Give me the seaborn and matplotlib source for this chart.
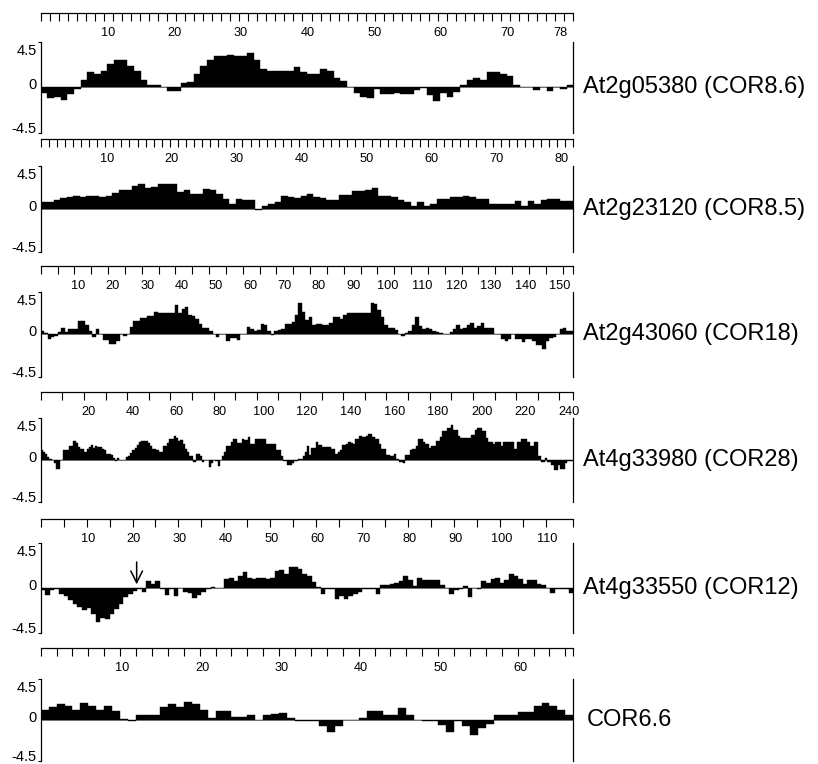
import numpy as np
import pandas as pd
import matplotlib
matplotlib.use("Agg")
import matplotlib.pyplot as plt
import seaborn as sns

# ──────────────────────────────────────────────
# ДАННЫЕ: профили гидропатии (значения по остаткам)
# ──────────────────────────────────────────────

COR86 = [
    -0.6, -1.1, -1.0, -1.3, -0.7, -0.2, 0.75, 1.5, 1.3, 1.6,
    2.3, 2.7, 2.7, 2.1, 1.6, 0.75, 0.25, 0.25, 0, -0.35,
    -0.35, 0.4, 0.55, 1.3, 2.1, 2.7, 3.1, 3.1, 3.2, 3.1,
    3.1, 3.45, 2.7, 1.8, 1.65, 1.65, 1.65, 1.65, 2.05, 1.5,
    1.35, 1.35, 1.8, 1.6, 0.9, 0.65, 0, -0.6, -0.95, -1.1,
    -0.2, -0.65, -0.65, -0.6, -0.65, -0.65, -0.3, -0.1, -0.75, -1.4,
    -0.6, -0.95, -0.45, 0.25, 0.75, 0.9, 0.75, 1.5, 1.5, 1.35,
    1.1, 0.25, 0, 0, -0.25, 0, -0.4, 0, -0.2, 0.25,
]

COR85 = [
    0.7, 0.7, 0.95, 1.1, 1.3, 1.35, 1.3, 1.35, 1.35, 1.3,
    1.35, 1.7, 1.95, 1.95, 2.4, 2.65, 2.15, 2.3, 2.65, 2.65,
    2.65, 1.75, 1.95, 1.55, 1.55, 2.1, 1.95, 1.55, 1.05, 0.55,
    1.05, 0.95, 0.95, -0.1, 0.35, 0.55, 0.7, 1.35, 1.3, 1.2,
    1.35, 1.6, 1.25, 1.2, 0.9, 0.9, 1.5, 1.5, 1.9, 1.9,
    2.0, 2.25, 1.35, 1.35, 1.25, 0.9, 0.7, 0.35, 0.7, 0.35,
    0.5, 1.0, 1.0, 1.25, 1.25, 1.35, 1.25, 1.0, 1.0, 0.5,
    0.5, 0.5, 0.5, 0.85, 0.35, 0.85, 0.5, 0.9, 1.0, 1.0,
    0.85, 0.85,
]

COR18 = [
    0.35, 0.1, -0.5, -0.25, -0.2, 0.2, 0.7, 0.2, 0.55, 0.55,
    0.55, 1.45, 1.45, 0.95, 0.35, -0.25, 0.55, 0, -0.55, -0.55,
    -1.0, -1.0, -0.7, 0, -0.15, 0, 0.8, 1.45, 1.45, 1.7,
    1.7, 1.9, 1.95, 2.4, 2.3, 2.3, 2.3, 2.3, 2.3, 3.05,
    2.3, 2.65, 2.9, 2.0, 1.9, 1.6, 1.1, 0.7, 0.7, 0.35,
    0, -0.3, 0, 0, -0.7, -0.4, -0.4, -0.55, 0, 0,
    0.8, 0.6, 0.35, 0.45, 1.1, 0.95, 0.35, -0.1, 0.35, 0.45,
    0.6, 1.1, 1.1, 1.3, 2.0, 3.3, 2.4, 1.5, 1.8, 1.0,
    1.05, 1.05, 1.0, 1.0, 1.15, 1.8, 1.8, 1.6, 2.0, 2.2,
    2.2, 2.2, 2.2, 2.2, 2.2, 2.2, 3.35, 3.2, 2.6, 1.85,
    1.0, 0.65, 0.65, 0.5, 0, -0.2, 0.1, 0.35, 1.0, 1.8,
    0.9, 0.6, 0.7, 0.6, 0.4, 0.25, 0.1, 0, 0, 0.2,
    0.6, 1.0, 0.55, 0.7, 1.0, 1.15, 0.7, 0.85, 1.15, 0.65,
    0.65, 0.65, 0, 0, -0.45, -0.7, -0.45, 0, -0.5, -0.5,
    -0.85, -0.45, -0.45, -0.75, -1.1, -1.1, -1.5, -0.7, -0.35, -0.25,
    0, 0.6, 0.65, 0.35, 0.35,
]

COR28 = [
    1.0, 0.8, 0.6, 0.3, 0.1, 0, -0.3, -0.95, -0.95, 0,
    1.05, 1.05, 1.05, 1.5, 1.5, 2.0, 1.75, 1.4, 1.15, 1.15,
    0.8, 1.15, 1.4, 1.55, 1.3, 1.5, 1.4, 1.4, 1.15, 1.0,
    0.6, 0.6, 0.55, 0.2, -0.15, 0.2, 0, 0, 0, 0.3,
    0.45, 0.7, 1.0, 1.25, 1.6, 1.85, 2.0, 2.0, 2.0, 1.75,
    1.5, 1.15, 1.15, 1.0, 0.8, 0.8, 1.5, 1.5, 1.75, 2.2,
    2.2, 2.5, 2.3, 2.0, 2.1, 1.65, 1.15, 0.8, 0.45, 0.45,
    -0.25, 0.6, 0.6, 0.35, -0.25, 0, 0, -0.75, -0.4, 0,
    -0.1, -0.7, 0, 0.45, 0.8, 1.5, 1.5, 1.85, 2.2, 2.2,
    1.75, 1.75, 2.2, 2.1, 2.1, 2.4, 1.65, 1.65, 2.2, 2.2,
    2.2, 2.2, 2.2, 1.65, 1.65, 1.65, 1.65, 1.65, 1.0, 1.0,
    0.45, -0.15, -0.15, -0.6, -0.6, -0.35, -0.15, -0.15, 0.1, 0.1,
    0.45, 0.8, 1.5, 0.55, 1.25, 1.25, 1.85, 1.55, 1.55, 1.4,
    1.4, 1.4, 1.4, 1.15, 1.15, 0.6, 0.8, 1.0, 1.55, 1.55,
    1.65, 1.95, 1.8, 1.65, 2.2, 2.2, 2.5, 2.45, 2.45, 2.5,
    2.75, 2.75, 2.4, 2.2, 2.2, 1.65, 1.15, 1.15, 0.55, 0.55,
    0.45, 0.45, 0.6, 0.1, -0.25, -0.25, -0.35, 0.55, 0.55, 1.0,
    1.15, 1.15, 1.5, 2.2, 2.2, 1.85, 1.65, 1.65, 1.3, 1.5,
    1.5, 2.0, 2.0, 2.4, 3.05, 3.05, 3.4, 3.4, 3.75, 3.2,
    3.2, 2.5, 2.35, 2.35, 2.35, 2.35, 2.35, 2.6, 2.6, 3.2,
    3.4, 3.4, 3.05, 3.05, 2.35, 1.95, 1.95, 1.65, 1.95, 1.95,
    1.95, 1.5, 1.85, 1.85, 1.95, 1.95, 1.95, 1.15, 1.85, 1.85,
    2.2, 2.2, 2.2, 1.85, 1.5, 1.5, 1.85, 1.85, 0.45, -0.25,
    -0.25, 0.2, -0.25, -0.25, -0.6, -1.05, -1.05, -0.6, -0.95, -0.95,
    -0.35, -0.15, -0.15, -0.15,
]

COR12 = [
    -0.2, -0.65, -0.2, -0.05, -0.55, -0.8, -1.2, -1.55, -1.85, -2.2,
    -1.95, -2.6, -3.4, -3.0, -3.05, -2.6, -2.1, -1.55, -0.9, -0.55,
    -0.3, -0.1, -0.35, 0.75, 0.45, 0.75, -0.05, -0.65, -0.05, -0.8,
    0, -0.35, -0.45, -1.0, -0.7, -0.35, -0.05, 0.1, 0, 0,
    0.9, 1.05, 0.75, 1.25, 1.6, 1.05, 0.9, 1.05, 1.05, 0.9,
    1.0, 1.7, 1.8, 1.4, 2.15, 2.15, 1.9, 1.4, 1.2, 0.65,
    0.1, -0.55, -0.05, -0.05, -1.1, -0.8, -1.1, -0.8, -0.55, -0.35,
    -0.05, -0.05, -0.05, -0.55, 0.35, 0.35, 0.45, 0.5, 0.75, 1.25,
    0.85, 0.2, 1.05, 0.85, 0.8, 0.8, 0.8, 0.35, 0, -0.55,
    -0.2, -0.05, 0.2, -0.9, 0, -0.05, 0.75, 0.5, 0.9, 1.05,
    0.5, 0.85, 1.4, 1.25, 0.9, 0.45, 0.85, 0.85, 0.45, 0.35,
    0, -0.45, -0.05, -0.05, -0.05, -0.45,
]

COR66 = [
    1.1, 1.4, 1.8, 1.6, 1.1, 1.9, 1.6, 1.1, 1.55, 1.05,
    0.1, -0.15, 0.6, 0.6, 0.6, 1.4, 1.8, 1.4, 1.95, 1.8,
    1.1, 0.2, 0.95, 0.95, 0.35, 0.35, 0.6, 0, 0.5, 0.65,
    0.8, 0.2, -0.1, -0.15, -0.15, -0.65, -1.3, -0.65, 0, 0,
    0.2, 0.95, 0.95, 0.6, 0.6, 1.35, 0.6, 0, -0.15, -0.15,
    -0.5, -1.3, -0.15, -0.65, -1.65, -0.9, -0.4, 0.6, 0.6, 0.6,
    0.85, 0.85, 1.6, 1.9, 1.6, 1.1, 0.6,
]

SERIES = [COR86, COR85, COR18, COR28, COR12, COR66]
NAMES = [
    "At2g05380 (COR8.6)", "At2g23120 (COR8.5)", "At2g43060 (COR18)",
    "At4g33980 (COR28)", "At4g33550 (COR12)", "COR6.6",
]
TICK_LABELS = [
    [10, 20, 30, 40, 50, 60, 70, 78],
    [10, 20, 30, 40, 50, 60, 70, 80],
    list(range(10, 151, 10)),
    list(range(20, 241, 20)),
    list(range(10, 111, 10)),
    [10, 20, 30, 40, 50, 60],
]
ARROW_POS = 20.9          # стрелка на панели COR12

# ──────────────────────────────────────────────
# РАЗМЕТКА (пиксели исходной картинки)
# ──────────────────────────────────────────────

W, H = 818, 764
LEFT, RIGHT = 40.7, 573.3
RULER_Y = [13, 139, 265.7, 392, 519, 648.3]
TOP_Y = [42, 166, 291.7, 417.7, 543.3, 679.3]
BOT_Y = [132.7, 252, 377, 501.7, 633, 760.7]
LABEL_SHIFT = [0.1, 0.2, 1.0, 2.0, 0.3, 0.3]
RULER_STEP = [80 / 59, 82 / 66, 4.9, 9.9, 5.0, 2.0]
NAME_PAD = [7, 7, 7, 7, 7, 9.5]

sns.set_theme(style="white", rc={
    "axes.edgecolor": "black", "text.color": "black",
    "xtick.color": "black", "ytick.color": "black",
})
plt.rcParams["font.family"] = ["Liberation Sans", "DejaVu Sans"]

fig = plt.figure(figsize=(W / 100, H / 100), dpi=100)

for i, (vals, name, labels) in enumerate(zip(SERIES, NAMES, TICK_LABELS)):
    n = len(vals)
    scale = (BOT_Y[i] - TOP_Y[i]) / 9
    ymax = 4.5 + (TOP_Y[i] - RULER_Y[i]) / scale

    ax = fig.add_axes([LEFT / W, 1 - BOT_Y[i] / H,
                       (RIGHT - LEFT) / W, (BOT_Y[i] - RULER_Y[i]) / H])
    df = pd.DataFrame({"pos": np.arange(n) + 0.5, "hyd": vals})
    ax.axhline(0, color="0.55", lw=0.7, zorder=0)
    sns.barplot(data=df, x="pos", y="hyd", native_scale=True, width=1,
                color="black", saturation=1, errorbar=None,
                edgecolor="black", linewidth=0.3, ax=ax)
    ax.set_xlim(0, n)
    ax.set_ylim(-4.5, ymax)
    ax.set_xlabel("")
    ax.set_ylabel("")

    # рамка: линейка сверху, скобки слева и справа
    ax.spines["bottom"].set_visible(False)
    for side in ["left", "right", "top"]:
        ax.spines[side].set_linewidth(0.9)
        ax.spines[side].set_color("black")
    ax.spines["left"].set_bounds(-4.5, 4.5)
    ax.spines["right"].set_bounds(-4.5, 4.5)

    # линейка
    step = RULER_STEP[i]
    k = int(np.floor(n / step + 1e-6))
    ruler = list(step * np.arange(k + 1))
    if n - ruler[-1] > 0.25 * step:
        ruler.append(n)
    else:
        ruler[-1] = n
    ax.set_xticks(ruler, minor=True)
    ax.set_xticks([lab + LABEL_SHIFT[i] for lab in labels], [str(lab) for lab in labels])
    ax.tick_params(axis="x", which="both", bottom=False, top=True,
                   labelbottom=False, labeltop=True, direction="in")
    ax.tick_params(axis="x", which="major", length=0, pad=-18.6, labelsize=9.2)
    ax.tick_params(axis="x", which="minor", length=5.5, width=0.8)

    # ось Y
    ax.set_yticks([-4.5, 4.5])
    ax.tick_params(axis="y", which="major", left=True, right=False,
                   labelleft=False, direction="out", length=2.5, width=0.8)
    for yv, txt, dy in [(4.5, "4.5", -6.5), (0, "0", 1.5), (-4.5, "-4.5", 3)]:
        ax.annotate(txt, xy=(0, yv), xycoords=("axes fraction", "data"),
                    xytext=(-3, dy), textcoords="offset points",
                    ha="right", va="center", fontsize=10.5)

    ax.annotate(name, xy=(1, 0), xycoords=("axes fraction", "data"),
                xytext=(NAME_PAD[i], 0), textcoords="offset points",
                ha="left", va="center", fontsize=17)

    if i == 4:
        ax.annotate("", xy=(ARROW_POS, 0.1), xytext=(ARROW_POS, 2.9),
                    arrowprops=dict(arrowstyle="->, head_length=0.7, head_width=0.35",
                                    color="black", lw=1.1))

fig.savefig("out.png", dpi=100)
